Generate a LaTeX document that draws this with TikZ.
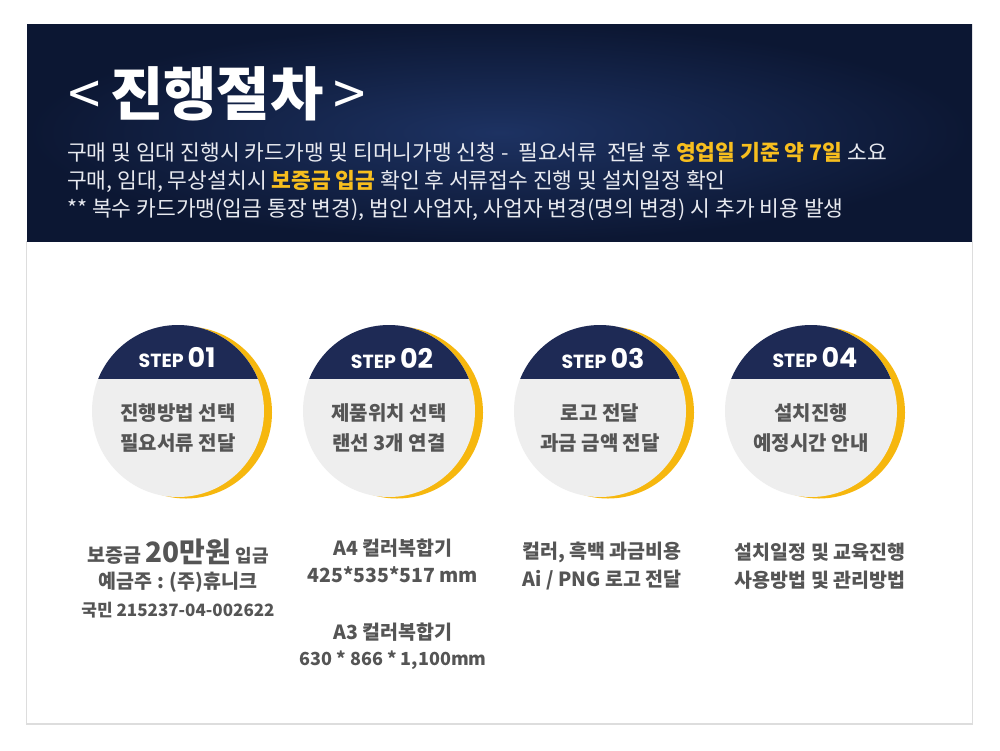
\documentclass[tikz,border=0pt]{standalone}
\usepackage{fontspec}
\setmainfont{Noto Sans CJK KR}
\newfontfamily\stepfont{Poppins}
\definecolor{navy}{HTML}{1E2A55}
\definecolor{bannerin}{HTML}{1D3262}
\definecolor{bannerout}{HTML}{0C1733}
\definecolor{stepyellow}{HTML}{F6B70E}
\definecolor{hlyellow}{HTML}{F7BE1E}
\definecolor{circlegrey}{HTML}{EEEEEE}
\definecolor{textgrey}{HTML}{555555}
\definecolor{framegrey}{HTML}{DDDDDD}
\definecolor{bannertext}{HTML}{E8EAF0}

\begin{document}
\begin{tikzpicture}[x=1pt,y=-1pt,
  steplabel/.style={text=white,inner sep=0pt},
  stepbody/.style={text=textgrey,align=center,inner sep=0pt,font=\fontsize{20}{30}\selectfont\bfseries},
  infotext/.style={text=textgrey,inner sep=0pt,font=\fontsize{19.5}{22}\selectfont\bfseries},
  bannerline/.style={text=bannertext,anchor=west,inner sep=0pt,font=\fontsize{21.5}{24}\selectfont}]
\useasboundingbox (0,0) rectangle (1000,750);
\fill[white] (0,0) rectangle (1000,750);

%banner%%%%%%%%%%%%%%%%%%%%%%%%%%%%%%%%%%%%%%%%%%%%%%%%%%%%%%%%%%%
\shade[inner color=bannerin,outer color=bannerout] (27,24) rectangle (972,241);
\draw[framegrey,line width=1.2] (26.5,241) -- (26.5,724) -- (972.5,724) -- (972.5,241);

\node[text=white,anchor=west,inner sep=0pt,font=\fontsize{58}{64}\selectfont\bfseries] (title) at (68,94) {{\mdseries<}\,진행절차\,{\mdseries>}};

\node[bannerline] (line1) at (67,152) {구매 및 임대 진행시 카드가맹 및 티머니가맹 신청 -\ \ 필요서류\ \ 전달 후 {\color{hlyellow}\bfseries 영업일 기준 약 7일} 소요};
\node[bannerline] (line2) at (67,181) {구매, 임대, 무상설치시 {\color{hlyellow}\bfseries 보증금 입금} 확인 후 서류접수 진행 및 설치일정 확인};
\node[bannerline] (line3) at (67,210) {** 복수 카드가맹(입금 통장 변경), 법인 사업자, 사업자 변경(명의 변경) 시 추가 비용 발생};

%steps%%%%%%%%%%%%%%%%%%%%%%%%%%%%%%%%%%%%%%%%%%%%%%%%%%%%%%%%%%%

\fill[stepyellow] (186,412.5) circle (86); %step 1
\fill[circlegrey] (178,411) circle (86);
\begin{scope}
\clip (178,411) circle (86);
\fill[navy] (90,320) rectangle (266,379);
\end{scope}

\fill[stepyellow] (397,412.5) circle (86); %step 2
\fill[circlegrey] (389,411) circle (86);
\begin{scope}
\clip (389,411) circle (86);
\fill[navy] (301,320) rectangle (477,379);
\end{scope}

\fill[stepyellow] (608,412.5) circle (86); %step 3
\fill[circlegrey] (600,411) circle (86);
\begin{scope}
\clip (600,411) circle (86);
\fill[navy] (512,320) rectangle (688,379);
\end{scope}

\fill[stepyellow] (819,412.5) circle (86); %step 4
\fill[circlegrey] (811,411) circle (86);
\begin{scope}
\clip (811,411) circle (86);
\fill[navy] (723,320) rectangle (899,379);
\end{scope}

\node[steplabel] (step1) at (177,358) {\stepfont\bfseries\fontsize{19}{19}\selectfont STEP \fontsize{27}{27}\selectfont 01};
\node[steplabel] (step2) at (392,358) {\stepfont\bfseries\fontsize{19}{19}\selectfont STEP \fontsize{27}{27}\selectfont 02};
\node[steplabel] (step3) at (603,358) {\stepfont\bfseries\fontsize{19}{19}\selectfont STEP \fontsize{27}{27}\selectfont 03};
\node[steplabel] (step4) at (815,358) {\stepfont\bfseries\fontsize{19}{19}\selectfont STEP \fontsize{27}{27}\selectfont 04};

\node[stepbody] (body1) at (178,428) {진행방법 선택\\필요서류 전달};
\node[stepbody] (body2) at (389,428) {제품위치 선택\\랜선 3개 연결};
\node[stepbody] (body3) at (600,428) {로고 전달\\과금 금액 전달};
\node[stepbody] (body4) at (811,428) {설치진행\\예정시간 안내};

%details%%%%%%%%%%%%%%%%%%%%%%%%%%%%%%%%%%%%%%%%%%%%%%%%%%%%%%%%%

\node[infotext] (dep1) at (178,552) {보증금 {\fontsize{28}{30}\selectfont 20만원} {\fontsize{18}{20}\selectfont 입금}};
\node[infotext] (dep2) at (178,582) {예금주 : (주)휴니크};
\node[infotext,font=\fontsize{17}{20}\selectfont\bfseries] (dep3) at (178,610) {국민 215237-04-002622};

\node[infotext] (size1) at (393,548) {A4 컬러복합기};
\node[infotext] (size2) at (393,575) {425*535*517 mm};
\node[infotext] (size3) at (393,632) {A3 컬러복합기};
\node[infotext,font=\fontsize{18}{22}\selectfont\bfseries] (size4) at (393,660) {630 * 866 * 1,100mm};

\node[infotext] (logo1) at (602,552) {컬러, 흑백 과금비용};
\node[infotext] (logo2) at (602,580) {Ai / PNG 로고 전달};

\node[infotext] (edu1) at (820,552) {설치일정 및 교육진행};
\node[infotext] (edu2) at (820,580) {사용방법 및 관리방법};

\end{tikzpicture}
\end{document}
